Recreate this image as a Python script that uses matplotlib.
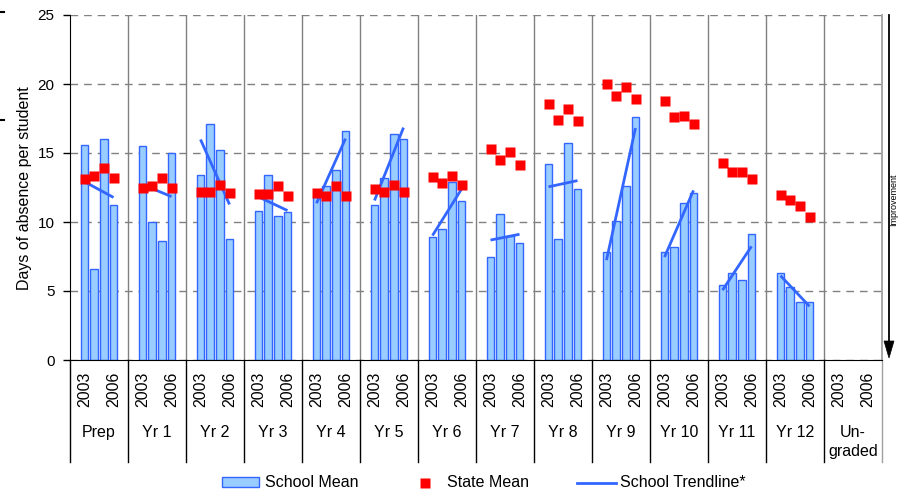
import numpy as np
import matplotlib
matplotlib.use("Agg")
import matplotlib.pyplot as plt
import matplotlib.transforms as mtransforms
from matplotlib.patches import Rectangle, Polygon
from matplotlib.lines import Line2D

plt.rcParams['font.family'] = ['Liberation Sans', 'DejaVu Sans']

# ---------------- data ----------------
groups = ["Prep", "Yr 1", "Yr 2", "Yr 3", "Yr 4", "Yr 5", "Yr 6", "Yr 7",
          "Yr 8", "Yr 9", "Yr 10", "Yr 11", "Yr 12", "Un-\ngraded"]
year_ticks = ["2003", "2006"]

school_prep = [15.6, 6.6, 16.0, 11.2]
school_yr1 = [15.5, 10.0, 8.6, 15.0]
school_yr2 = [13.4, 17.1, 15.2, 8.8]
school_yr3 = [10.8, 13.4, 10.4, 10.7]
school_yr4 = [11.8, 12.6, 13.8, 16.6]
school_yr5 = [11.2, 13.2, 16.4, 16.0]
school_yr6 = [8.9, 9.5, 12.9, 11.5]
school_yr7 = [7.5, 10.6, 9.0, 8.5]
school_yr8 = [14.2, 8.8, 15.7, 12.4]
school_yr9 = [7.8, 10.1, 12.6, 17.6]
school_yr10 = [7.8, 8.2, 11.4, 12.1]
school_yr11 = [5.4, 6.3, 5.8, 9.1]
school_yr12 = [6.3, 5.3, 4.2, 4.2]
school_ungraded = None

state_prep = [13.1, 13.3, 13.9, 13.2]
state_yr1 = [12.5, 12.6, 13.2, 12.5]
state_yr2 = [12.15, 12.15, 12.7, 12.1]
state_yr3 = [12.0, 12.0, 12.6, 11.9]
state_yr4 = [12.1, 11.9, 12.6, 11.9]
state_yr5 = [12.4, 12.2, 12.7, 12.2]
state_yr6 = [13.25, 12.8, 13.3, 12.7]
state_yr7 = [15.3, 14.5, 15.1, 14.1]
state_yr8 = [18.55, 17.4, 18.2, 17.3]
state_yr9 = [20.0, 19.1, 19.75, 18.9]
state_yr10 = [18.8, 17.6, 17.7, 17.1]
state_yr11 = [14.25, 13.6, 13.6, 13.1]
state_yr12 = [11.95, 11.6, 11.15, 10.35]
state_ungraded = None

school_mean = [school_prep, school_yr1, school_yr2, school_yr3, school_yr4,
               school_yr5, school_yr6, school_yr7, school_yr8, school_yr9,
               school_yr10, school_yr11, school_yr12, school_ungraded]
state_mean = [state_prep, state_yr1, state_yr2, state_yr3, state_yr4,
              state_yr5, state_yr6, state_yr7, state_yr8, state_yr9,
              state_yr10, state_yr11, state_yr12, state_ungraded]

# ---------------- figure ----------------
W, H = 899, 493
fig = plt.figure(figsize=(W / 100, H / 100), dpi=100)


def fx(x):
    return x / W


def fy(y):
    return 1 - y / H


ax = fig.add_axes([fx(70), fy(360), (882 - 70) / W, (360 - 15) / H])

BAR_FC = '#99CCFF'
BAR_EC = '#3366FF'
FS = 11.5
SLOTS = 6
n = len(groups)

for g in range(n):
    vals = school_mean[g]
    if vals is None:
        continue
    idx = np.arange(len(vals))
    xs = g * SLOTS + 1.5 + idx
    ax.bar(xs, vals, width=0.8, color=BAR_FC, edgecolor=BAR_EC,
           linewidth=1, zorder=2)
    coef = np.polyfit(idx, vals, 1)
    ax.plot(xs[[0, -1]], np.polyval(coef, idx[[0, -1]]), color=BAR_EC,
            lw=2, zorder=3, solid_capstyle='butt')
    ax.plot(xs, state_mean[g], 's', color='#FF0000', ms=6.5, mec='none',
            zorder=4)

ax.set_xlim(0, n * SLOTS)
ax.set_ylim(0, 25)
ax.set_yticks(np.arange(0, 26, 5))
ax.yaxis.grid(True, color='#808080', lw=1, linestyle=(0, (5.5, 4.3)))
ax.set_axisbelow(True)
ax.tick_params(axis='y', length=5, width=1, pad=6, labelsize=11,
               direction='out', color='black')

# x ticks: 2003 and 2006 under each group
xt, xl = [], []
for g in range(n):
    xt += [g * SLOTS + 1.5, g * SLOTS + 4.5]
    xl += year_ticks
ax.set_xticks(xt)
ax.set_xticklabels(xl, rotation=90, fontsize=FS)
ax.tick_params(axis='x', length=0, pad=8.5)

ax.spines['top'].set_visible(False)
ax.spines['left'].set_color('black')
ax.spines['bottom'].set_color('black')
ax.spines['right'].set_color('#A0A0A0')
ax.spines['right'].set_linewidth(1.3)

trans = mtransforms.blended_transform_factory(ax.transData, ax.transAxes)
below = -(462 - 360) / 345
for g in range(0, n + 1):
    xb = g * SLOTS
    if 0 < g < n:
        ax.plot([xb, xb], [0, 1], transform=trans, color='#808080', lw=1,
                zorder=1)
    ax.plot([xb, xb], [0, below], transform=trans, clip_on=False,
            color='black' if g < n else '#A0A0A0', lw=1)

label_top = -(425 - 360) / 345
for g, name in enumerate(groups):
    ax.text(g * SLOTS + 3, label_top, name, transform=trans, ha='center',
            va='top', fontsize=FS, multialignment='center', linespacing=1.35)

# y label
fig.text(fx(25), fy(188), "Days of absence per student", rotation=90,
         ha='center', va='center', fontsize=FS)

# arrow on right
fig.add_artist(Line2D([fx(889), fx(889)], [fy(15), fy(342)], color='black',
                      lw=1.3))
fig.add_artist(Polygon([[fx(884), fy(341)], [fx(894), fy(341)],
                        [fx(889), fy(358)]], closed=True, fc='black',
                       ec='black', lw=0.5))
fig.text(fx(898.5), fy(200), "Improvement", rotation=90, ha='right',
         va='center', fontsize=6.5)

# small marks at top-left edge
fig.add_artist(Line2D([0, fx(4)], [fy(12), fy(12)], color='black', lw=1.5))
fig.add_artist(Line2D([0, fx(4)], [fy(120), fy(120)], color='black', lw=1.5))

# legend (manual)
ly = 482.5
fig.add_artist(Rectangle((fx(222), fy(487)), (259 - 222) / W, 10 / H,
                         fc=BAR_FC, ec=BAR_EC, lw=1))
fig.text(fx(265), fy(ly), "School Mean", ha='left', va='center', fontsize=FS)
fig.add_artist(Line2D([fx(425)], [fy(ly)], marker='s', color='#FF0000',
                      ms=6.5, mec='none', lw=0))
fig.text(fx(447), fy(ly), "State Mean", ha='left', va='center', fontsize=FS)
fig.add_artist(Line2D([fx(577), fx(616)], [fy(ly), fy(ly)], color=BAR_EC,
                      lw=2))
fig.text(fx(620), fy(ly), "School Trendline*", ha='left', va='center',
         fontsize=FS)

fig.savefig("out.png", dpi=100)
